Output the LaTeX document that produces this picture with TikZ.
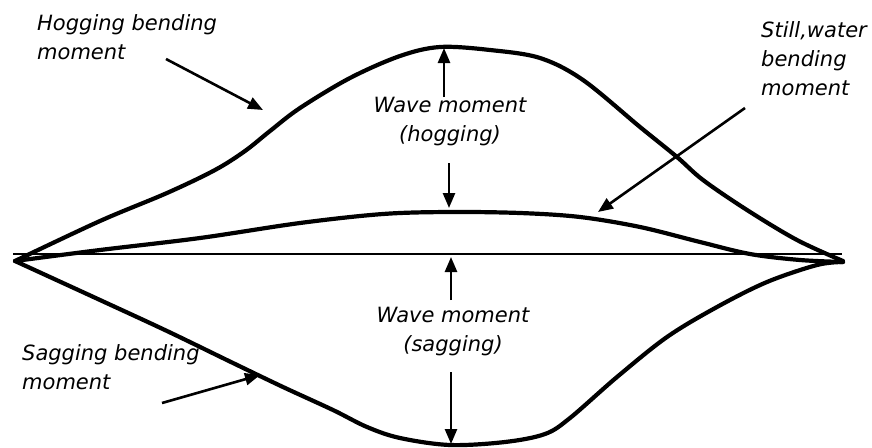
\documentclass[tikz,border=0pt]{standalone}
\usepackage{fontspec}
\setmainfont{DejaVu Sans}
\usetikzlibrary{arrows.meta}
\begin{document}
\begin{tikzpicture}[x=1pt,y=-1pt,
  curve/.style={line width=4.2pt, line join=round, line cap=round},
  base/.style={line width=2.2pt},
  pointer/.style={line width=2.6pt, -{Triangle[length=15pt,width=12pt]}},
  label/.style={font=\fontsize{21}{29}\selectfont\itshape, inner sep=0pt, align=left}]
\useasboundingbox (0,0) rectangle (872,447);
% baseline
\coordinate (bl) at (13,254);
\coordinate (br) at (842,254);
\draw[base] (bl) -- (br);
% hogging curve
\draw[curve] plot[smooth, tension=0.55] coordinates {(15,261) (100,221) (167,193) (215,170) (245,151) (270,131) (300,108) (350,78) (400,56) (440,47) (490,50) (540,58) (583,80) (640,127) (677,157) (703,180) (747,210) (797,240) (843,261)};
% still water curve
\draw[curve] plot[smooth, tension=0.55] coordinates {(15,261) (100,250) (200,238) (300,223) (383,214) (450,212) (520,213) (580,217) (640,227) (700,242) (750,254) (800,260) (843,262)};
% sagging curve
\draw[curve] plot[smooth, tension=0.55] coordinates {(15,261) (100,300) (167,331) (233,363) (283,387) (333,410) (367,427) (400,438) (450,445) (505,442) (545,434) (570,418) (617,377) (667,337) (717,307) (767,282) (817,265) (843,262)};
% labels
\node[label, anchor=north west] (hog) at (37,14) {Hogging bending\\moment};
\node[label, anchor=north west] (still) at (761,21) {Still,water\\bending\\moment};
\node[label, anchor=north west] (sag) at (22,344) {Sagging bending\\moment};
\node[label, align=center, anchor=north] (wh) at (450,97) {Wave moment\\(hogging)};
\node[label, align=center, anchor=north] (ws) at (453,307) {Wave moment\\(sagging)};
% pointer arrows
\coordinate (hogA) at (166,59);  \coordinate (hogB) at (263,110);
\coordinate (stA) at (745,108);  \coordinate (stB) at (598,212);
\coordinate (sagA) at (162,403); \coordinate (sagB) at (260,375);
\draw[pointer] (hogA) -- (hogB);
\draw[pointer] (stA) -- (stB);
\draw[pointer] (sagA) -- (sagB);
% wave moment arrows
\coordinate (wh1) at (444,97);  \coordinate (wh2) at (444,48);
\coordinate (wh3) at (449,163); \coordinate (wh4) at (449,208);
\coordinate (ws1) at (451,300); \coordinate (ws2) at (451,257);
\coordinate (ws3) at (451,372); \coordinate (ws4) at (451,444);
\draw[pointer] (wh1) -- (wh2);
\draw[pointer] (wh3) -- (wh4);
\draw[pointer] (ws1) -- (ws2);
\draw[pointer] (ws3) -- (ws4);
\end{tikzpicture}
\end{document}
